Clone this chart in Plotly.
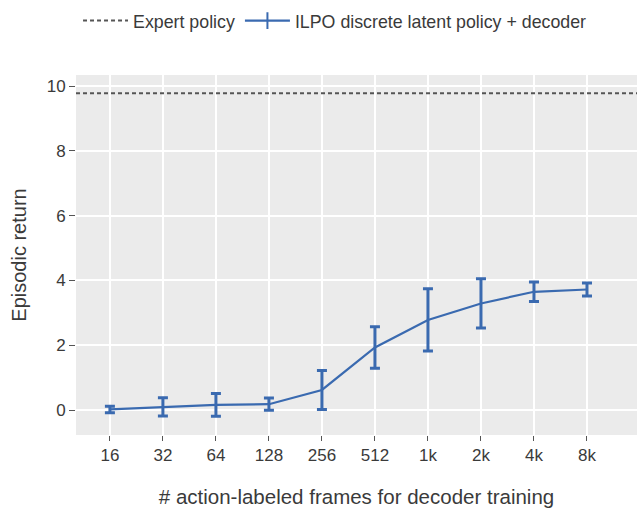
import plotly.graph_objects as go

# Number of action-labeled frames used to train the decoder
frames = [16, 32, 64, 128, 256, 512, 1024, 2048, 4096, 8192]
frame_labels = ["16", "32", "64", "128", "256", "512", "1k", "2k", "4k", "8k"]

# Mean episodic return and its spread for the ILPO latent policy + decoder
ilpo_mean = [0.02, 0.10, 0.16, 0.18, 0.62, 1.93, 2.78, 3.29, 3.65, 3.72]
ilpo_err = [0.10, 0.28, 0.35, 0.19, 0.60, 0.64, 0.96, 0.76, 0.30, 0.20]

expert_return = 9.78

blue = "#3a6ab0"
text_col = "#3a3a3a"
dash_style = "4px,3px"
ilpo_name = "ILPO discrete latent policy + decoder"

fig = go.Figure()

# Legend entry for the expert reference line (drawn as a shape below)
fig.add_trace(go.Scatter(
    x=[None], y=[None], mode="lines", name="Expert policy",
    line=dict(color="#555555", width=2, dash=dash_style),
))

# Legend entry showing the line with an error-bar tick
fig.add_trace(go.Scatter(
    x=[None], y=[None], mode="lines+markers", name=ilpo_name,
    line=dict(color=blue, width=2.2),
    marker=dict(symbol="line-ns", size=12, line=dict(color=blue, width=2)),
))

fig.add_trace(go.Scatter(
    x=frames, y=ilpo_mean, mode="lines", name=ilpo_name, showlegend=False,
    line=dict(color=blue, width=2.2),
    error_y=dict(type="data", array=ilpo_err, visible=True,
                 color=blue, thickness=3, width=5),
))

fig.add_shape(
    type="line", xref="paper", x0=0, x1=1, yref="y",
    y0=expert_return, y1=expert_return,
    line=dict(color="#555555", width=2, dash=dash_style),
)

fig.update_layout(
    width=637, height=508,
    margin=dict(l=76, r=0, t=75, b=73),
    paper_bgcolor="white",
    plot_bgcolor="#ebebeb",
    font=dict(family="Liberation Sans, Arial, sans-serif", size=17, color=text_col),
    showlegend=True,
    legend=dict(orientation="h", x=0.1225, xanchor="left", y=0.995,
                yanchor="top", yref="container", xref="container",
                itemwidth=45,
                font=dict(size=17.8, color=text_col),
                bgcolor="rgba(0,0,0,0)"),
)

fig.update_xaxes(
    type="log",
    range=[1.0116, 4.1974],
    tickvals=frames, ticktext=frame_labels,
    showgrid=True, gridcolor="white", gridwidth=1.5,
    zeroline=False, showline=False,
    ticks="outside", ticklen=5, tickcolor="#555555", tickwidth=1,
    tickfont=dict(size=17, color=text_col),
    title=dict(text="# action-labeled frames for decoder training",
               font=dict(size=20.5, color=text_col), standoff=26),
)

fig.update_yaxes(
    range=[-0.77, 10.34],
    tickvals=[0, 2, 4, 6, 8, 10],
    showgrid=True, gridcolor="white", gridwidth=1.5,
    zeroline=False, showline=False,
    ticks="outside", ticklen=6, tickcolor="#555555", tickwidth=1,
    tickfont=dict(size=17, color=text_col),
    title=dict(text="Episodic return", font=dict(size=20, color=text_col), standoff=14),
)

fig.write_html("out.html")
